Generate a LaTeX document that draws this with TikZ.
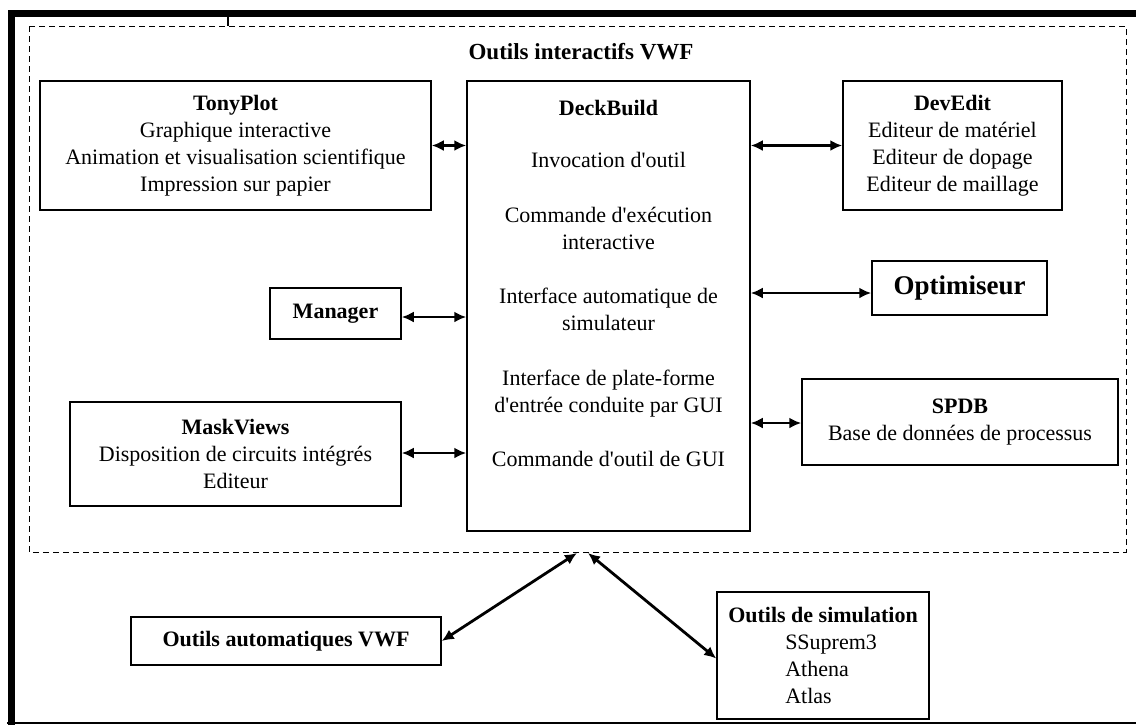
\documentclass[tikz,border=0pt]{standalone}
\usepackage{fontspec}
\setmainfont{Liberation Serif}
\usepackage{tikz}
\usetikzlibrary{arrows.meta, positioning, calc}
\newcommand{\ap}{\textquotesingle}

\begin{document}
\begin{tikzpicture}[
    x=0.5pt, y=-0.5pt,
    box/.style={draw, line width=0.75pt, align=center, inner sep=0pt,
                font=\fontsize{11}{13.5}\selectfont},
    arrow/.style={{Latex[length=6pt,width=5.5pt]}-{Latex[length=6pt,width=5.5pt]},
                  line width=1.4pt},
    frame/.style={dash pattern=on 3pt off 2pt, line width=0.5pt},
]
    \useasboundingbox (0,0) rectangle (1136,725);

    % outer frame and interactive tools area
    \draw[line width=3.5pt] (11,725) -- (11,13.5) -- (1136,13.5);
    \draw[line width=1pt] (7,723) -- (1136,723);
    \draw[line width=0.8pt] (228,17) -- (228,26);
    \draw[frame] (29,26) rectangle (1126,552);
    \node[font=\fontsize{11.5}{13.5}\selectfont\bfseries] (title) at (581,52) {Outils interactifs VWF};

    % central box
    \node[box] (deck) at (608.5,306)
        {\parbox[c][225pt][t]{141.5pt}{\centering\vspace*{9.6pt}%
         \textbf{DeckBuild}\\[12.5pt]
         Invocation d\ap outil\\[14pt]
         Commande d\ap exécution\\ interactive\\[13.5pt]
         Interface automatique de\\ simulateur\\[14pt]
         Interface de plate-forme\\ d\ap entrée conduite par GUI\\[13.5pt]
         Commande d\ap outil de GUI}};

    % left side
    \node[box, minimum width=195.5pt, minimum height=64.5pt] (tony) at (235.5,145.5)
        {\textbf{TonyPlot}\\ Graphique interactive\\ Animation et visualisation scientifique\\ Impression sur papier};
    \node[box, minimum width=65.5pt, minimum height=25.5pt] (man) at (335.5,313.5)
        {\textbf{Manager}};
    \node[box, minimum width=165.5pt, minimum height=52pt] (mask) at (235.5,454)
        {\textbf{MaskViews}\\ Disposition de circuits intégrés\\ Editeur};

    % right side
    \node[box, minimum width=109.5pt, minimum height=64.5pt] (dev) at (952.5,145.5)
        {\textbf{DevEdit}\\ Editeur de matériel\\ Editeur de dopage\\ Editeur de maillage};
    \node[box, minimum width=87.5pt, minimum height=27pt,
          font=\fontsize{13.5}{15}\selectfont\bfseries] (opt) at (959.5,288) {Optimiseur};
    \node[box, minimum width=158pt, minimum height=43pt] (spdb) at (960,422)
        {\textbf{SPDB}\\ Base de données de processus};

    % bottom
    \node[box, minimum width=155pt, minimum height=24pt] (auto) at (286,641)
        {\textbf{Outils automatiques VWF}};
    \node[box, minimum width=106pt, minimum height=63.5pt, align=left] (sim) at (823,655.5)
        {\textbf{Outils de simulation}\\ \hspace*{28.5pt}SSuprem3\\ \hspace*{28.5pt}Athena\\ \hspace*{28.5pt}Atlas};
    \coordinate (top1) at (577,553);
    \coordinate (top2) at (588,553);

    \foreach \n/\dy in {tony/0, man/3.5, mask/-1}
        \draw[arrow] ([yshift=-\dy*0.5pt]\n.east) -- ([yshift=-\dy*0.5pt]\n.east -| deck.west);
    \foreach \n/\dy in {dev/0, opt/5, spdb/1}
        \draw[arrow] ([yshift=-\dy*0.5pt]deck.east |- \n.west) -- ([yshift=-\dy*0.5pt]\n.west);
    \draw[arrow] (auto.east) -- (top1);
    \draw[arrow] ([yshift=-1.5pt]sim.west) -- (top2);
\end{tikzpicture}
\end{document}
